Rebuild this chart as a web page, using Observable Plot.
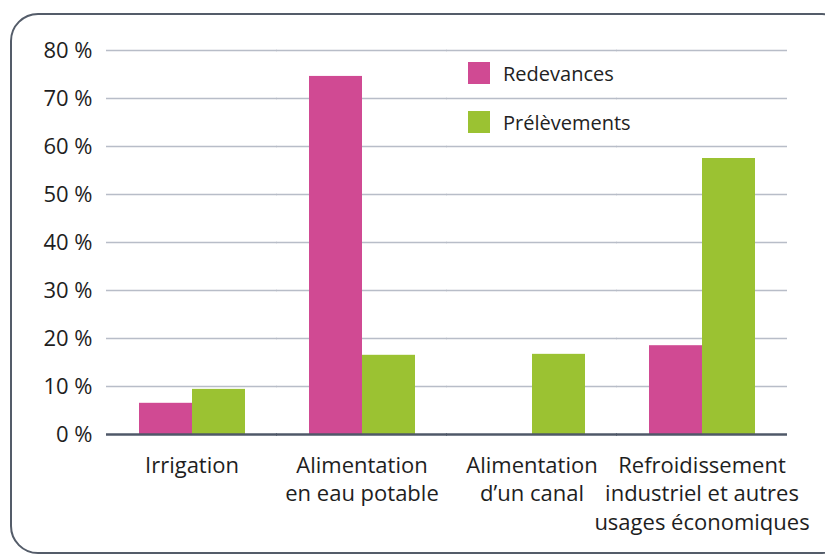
<!DOCTYPE html>
<html><head><meta charset="utf-8">
<script src="https://cdn.jsdelivr.net/npm/d3@7"></script>
<script src="https://cdn.jsdelivr.net/npm/@observablehq/plot@0.6"></script>
<style>
html,body{margin:0;padding:0;background:#fff;overflow:hidden;}
#wrap{position:relative;width:825px;height:556px;font-family:"Open Sans",sans-serif;}
#box{position:absolute;left:10px;top:13px;width:840px;height:541px;border:2.5px solid #545c69;border-radius:28px;box-sizing:border-box;}
#legend{position:absolute;left:468px;top:62px;font-size:20px;color:#222;}
.it{display:flex;align-items:center;height:22px;margin-bottom:27px;}
.sw{width:22px;height:22px;margin-right:13px;}
#chart{position:absolute;left:0;top:0;}
</style></head>
<body><div id="wrap"><div id="box"></div><div id="chart"></div><div id="legend"></div></div>
<script>
const categories = ["Irrigation", "Alimentation\nen eau potable", "Alimentation\nd’un canal", "Refroidissement\nindustriel et autres\nusages économiques"];
const series = ["Redevances", "Prélèvements"];
const redevances = [6.5, 74.6, 0, 18.5];
const prelevements = [9.4, 16.5, 16.7, 57.5];
const yTicks = [0, 10, 20, 30, 40, 50, 60, 70, 80];
const colors = ["#d04a93", "#9bc232"];

const data = [];
categories.forEach((c, i) => {
  data.push({cat: c, s: series[0], v: redevances[i]});
  data.push({cat: c, s: series[1], v: prelevements[i]});
});

const chart = Plot.plot({
  width: 825, height: 556,
  marginLeft: 106, marginRight: 38, marginTop: 50, marginBottom: 122,
  style: {fontFamily: "'Open Sans', sans-serif", background: "transparent", overflow: "visible"},
  fx: {domain: categories, paddingInner: 0.37, paddingOuter: 0.185, label: null},
  x: {domain: series, padding: 0, axis: null},
  y: {domain: [0, 80], label: null},
  color: {domain: series, range: colors},
  marks: [
    Plot.ruleY(yTicks.slice(1), {stroke: "#b8bdc8", strokeWidth: 1.5, insetLeft: -32, insetRight: -32}),
    Plot.barY(data, {fx: "cat", x: "s", y: "v", fill: "s"}),
    Plot.ruleY([0], {stroke: "#4f5868", strokeWidth: 2.5, insetLeft: -32, insetRight: -32}),
    Plot.axisY(yTicks, {tickSize: 0, tickPadding: 46, tickFormat: d => d + " %", fontSize: 22, fill: "#1e1e1e", label: null}),
    Plot.axisFx({anchor: "bottom", tickSize: 0, tickPadding: 18, fontSize: 22, lineHeight: 1.3, fill: "#1e1e1e", label: null})
  ]
});
document.getElementById("chart").appendChild(chart);

const leg = document.getElementById("legend");
series.forEach((s, i) => {
  const d = document.createElement("div"); d.className = "it";
  d.innerHTML = `<span class="sw" style="background:${colors[i]}"></span><span>${s}</span>`;
  leg.appendChild(d);
});
</script></body></html>
